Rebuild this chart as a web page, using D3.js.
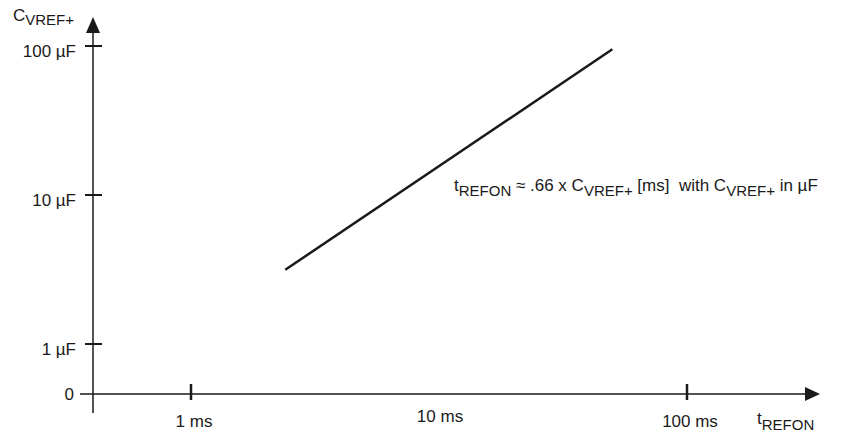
<!DOCTYPE html>
<html><head><meta charset="utf-8">
<script src="https://cdn.jsdelivr.net/npm/d3@7"></script>
<style>
html,body{margin:0;padding:0;background:#fff;}
text{font-family:"Liberation Sans",Arial,sans-serif;fill:#1a1a1a;white-space:pre;}
</style></head>
<body>
<svg id="chart" width="849" height="434"></svg>
<script>
// Data
const xTicks = [1, 10, 100];
const xTickLabels = ["1 ms", "10 ms", "100 ms"];
const xTickMarks = [1, 100];
const yTicks = [1, 10, 100];
const yTickLabels = ["1 µF", "10 µF", "100 µF"];
const lineT = [2.4, 50];     // t_REFON in ms
const lineC = [3.15, 95];    // C_VREF+ in µF

const svg = d3.select("#chart");
const col = "#1a1a1a";
const FS = 17, SS = 15;

const x = d3.scaleLog().domain([1, 100]).range([191, 687]);
const y = d3.scaleLog().domain([1, 100]).range([344, 46]);
const x0 = 93, y0 = 394;

// axes lines
svg.append("line").attr("x1", 80).attr("x2", 808).attr("y1", y0).attr("y2", y0)
  .attr("stroke", col).attr("stroke-width", 1.5);
svg.append("line").attr("x1", x0).attr("x2", x0).attr("y1", 30).attr("y2", 413)
  .attr("stroke", col).attr("stroke-width", 1.5);
// arrows
svg.append("path").attr("d", `M${x0},17 L${x0-7},33 L${x0+7},33 Z`).attr("fill", col);
svg.append("path").attr("d", `M820,${y0} L805,${y0-7} L805,${y0+7} Z`).attr("fill", col);

// y ticks
yTicks.forEach((v, i) => {
  svg.append("line").attr("x1", x0 - 8).attr("x2", x0 + 9).attr("y1", y(v)).attr("y2", y(v))
    .attr("stroke", col).attr("stroke-width", 2);
  svg.append("text").attr("x", 76).attr("y", y(v) + 11).attr("text-anchor", "end")
    .attr("font-size", FS).text(yTickLabels[i]);
});
svg.append("text").attr("x", 74).attr("y", y0 + 6).attr("text-anchor", "end")
  .attr("font-size", FS).text("0");

// x ticks
xTickMarks.forEach(v => {
  svg.append("line").attr("x1", x(v)).attr("x2", x(v)).attr("y1", y0 - 10).attr("y2", y0 + 6)
    .attr("stroke", col).attr("stroke-width", 2.5);
});
xTicks.forEach((v, i) => {
  svg.append("text").attr("x", x(v) + (i === 1 ? 1 : 3)).attr("y", i === 1 ? 422 : 427)
    .attr("text-anchor", "middle").attr("font-size", FS).text(xTickLabels[i]);
});

// axis titles
const yt = svg.append("text").attr("x", 13).attr("y", 21).attr("font-size", FS);
yt.append("tspan").text("C");
yt.append("tspan").attr("font-size", SS).attr("dy", 4).text("VREF+");

const xt = svg.append("text").attr("x", 757).attr("y", 424).attr("font-size", FS);
xt.append("tspan").text("t");
xt.append("tspan").attr("font-size", SS).attr("dy", 6).text("REFON");

// formula
const f = svg.append("text").attr("x", 454).attr("y", 191).attr("font-size", FS);
f.append("tspan").text("t");
f.append("tspan").attr("font-size", SS).attr("dy", 5).text("REFON");
f.append("tspan").attr("dy", -5).text(" ≈ .66 x C");
f.append("tspan").attr("font-size", SS).attr("dy", 5).text("VREF+");
f.append("tspan").attr("dy", -5).text(" [ms]\u00a0 with C");
f.append("tspan").attr("font-size", SS).attr("dy", 5).text("VREF+");
f.append("tspan").attr("dy", -5).text(" in µF");

// data line
const pts = lineT.map((t, i) => [t, lineC[i]]);
svg.append("path").datum(pts)
  .attr("d", d3.line().x(d => x(d[0])).y(d => y(d[1])))
  .attr("fill", "none").attr("stroke", col).attr("stroke-width", 2.5);
</script>
</body></html>
